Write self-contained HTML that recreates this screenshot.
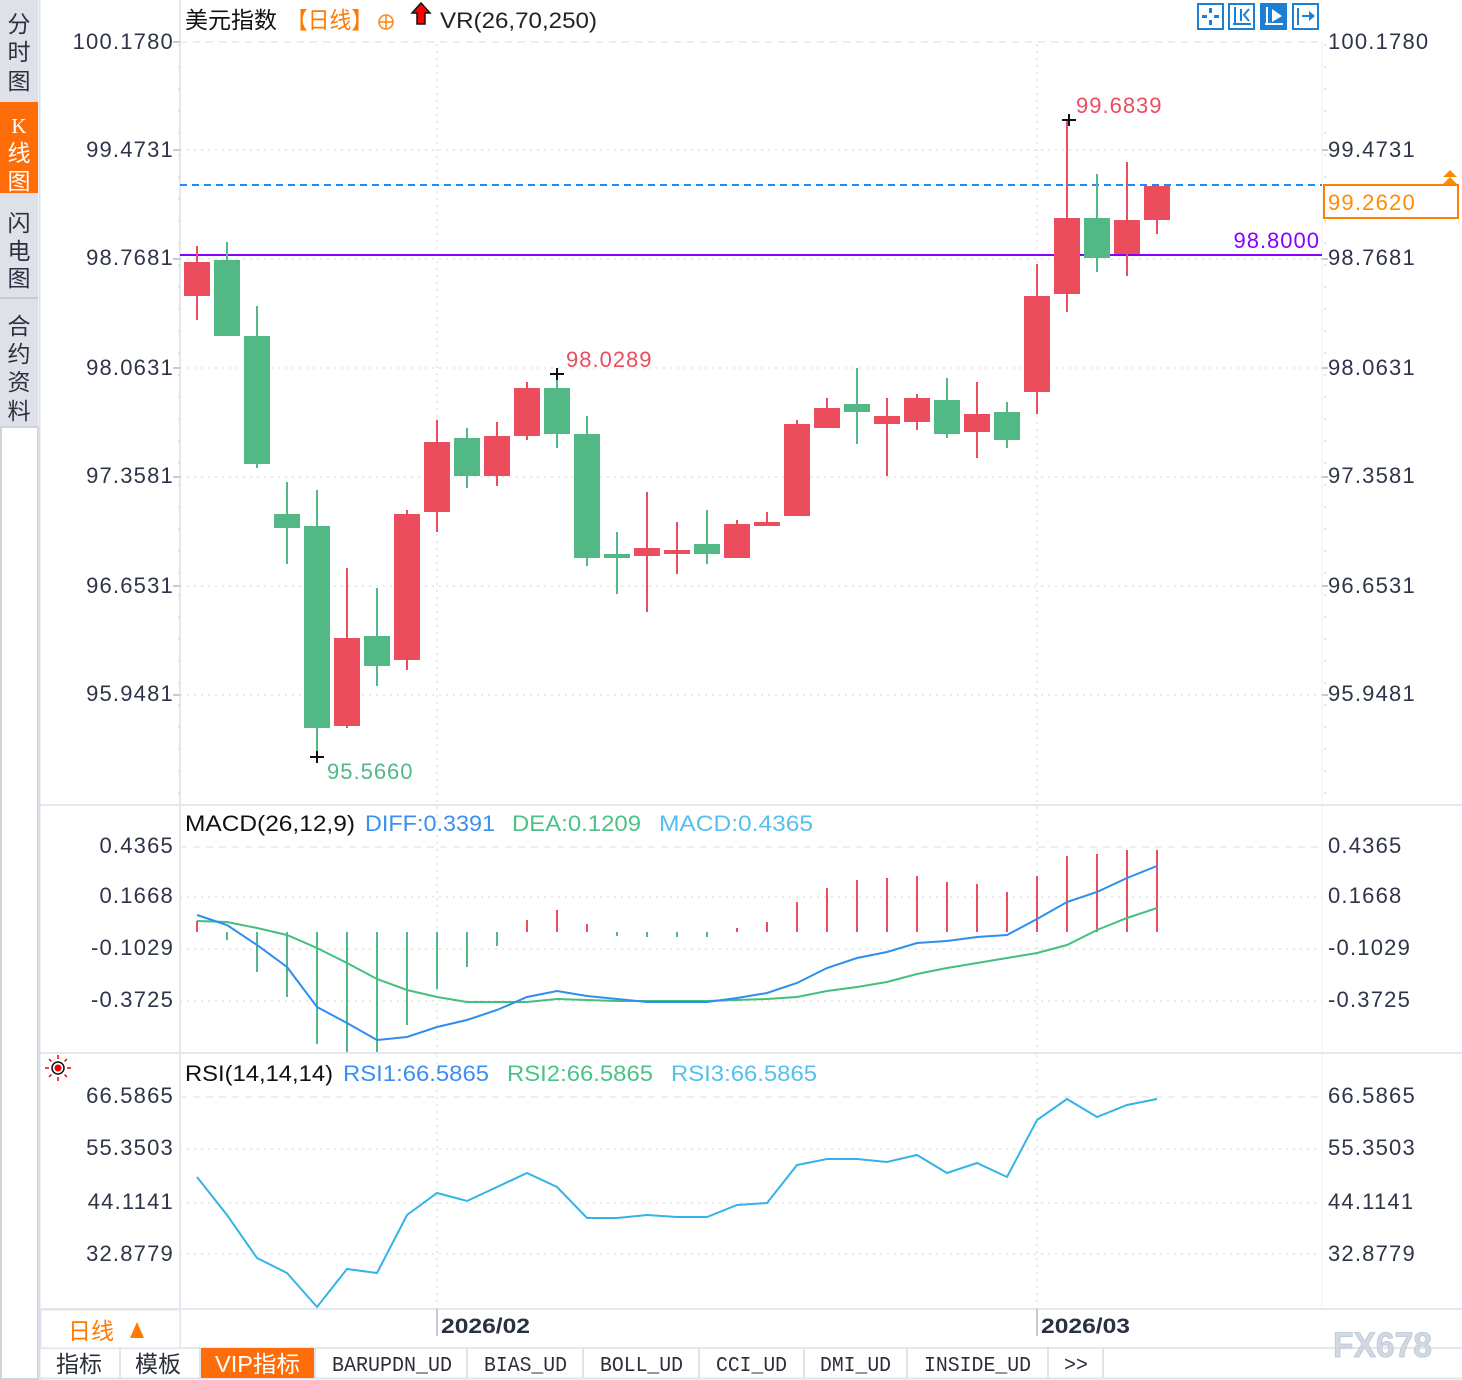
<!DOCTYPE html>
<html><head><meta charset="utf-8"><style>
html,body{margin:0;padding:0;background:#fff;}
svg{display:block;}
.ax{font-family:"Liberation Sans",sans-serif;font-size:22px;fill:#2e3548;letter-spacing:1.2px;}
.cj{font-family:"Liberation Sans","Noto Sans CJK SC",sans-serif;}
.tb{font-family:"Liberation Mono","Noto Sans CJK SC",monospace;font-size:21px;fill:#2a2f3a;}
</style></head><body>
<svg width="1462" height="1380" viewBox="0 0 1462 1380" xmlns="http://www.w3.org/2000/svg">
<rect width="1462" height="1380" fill="#fff"/>
<!-- sidebar -->
<rect x="0" y="0" width="38" height="427" fill="#dfe1e8"/>
<rect x="0" y="102" width="38" height="91" fill="#ff6d0a"/>
<line x1="0" y1="298" x2="38" y2="298" stroke="#c6cad3" stroke-width="2"/>
<rect x="1" y="427" width="37" height="952" fill="#fff" stroke="#cfd4dc" stroke-width="2"/>
<line x1="39.5" y1="0" x2="39.5" y2="1380" stroke="#dde2ea" stroke-width="2"/>
<g class="cj" font-size="23" fill="#2b3140" text-anchor="middle">
<text x="19" y="32">分</text><text x="19" y="60">时</text><text x="19" y="89">图</text>
<text x="19" y="133" fill="#fff" font-family="Liberation Serif,serif" font-size="21">K</text><text x="19" y="161" fill="#fff">线</text><text x="19" y="189" fill="#fff">图</text>
<text x="19" y="231">闪</text><text x="19" y="259">电</text><text x="19" y="286">图</text>
<text x="19" y="334">合</text><text x="19" y="362">约</text><text x="19" y="390">资</text><text x="19" y="419">料</text>
</g>
<!-- panel structure lines -->
<line x1="180" y1="0" x2="180" y2="1348" stroke="#e3e8ef" stroke-width="2"/>
<line x1="1322" y1="41" x2="1322" y2="1309" stroke="#eef1f5" stroke-width="1"/>
<line x1="40" y1="805" x2="1462" y2="805" stroke="#e3e8ef" stroke-width="2"/>
<line x1="40" y1="1053" x2="1462" y2="1053" stroke="#e3e8ef" stroke-width="2"/>
<line x1="40" y1="1309" x2="1462" y2="1309" stroke="#e3e8ef" stroke-width="2"/>
<line x1="40" y1="1348" x2="1462" y2="1348" stroke="#e3e8ef" stroke-width="2"/>
<!-- grid -->
<g stroke="#e6e9ee" stroke-width="1.5" fill="none">
<line x1="180" y1="42" x2="1322" y2="42" stroke-dasharray="7,6"/>
<line x1="180" y1="847" x2="1322" y2="847" stroke-dasharray="7,6"/>
<line x1="180" y1="1097" x2="1322" y2="1097" stroke-dasharray="7,6"/>
</g>
<g stroke="#e4e4e4" stroke-width="1.5" stroke-dasharray="2,5" fill="none">
<line x1="180" y1="150" x2="1322" y2="150"/>
<line x1="180" y1="259" x2="1322" y2="259"/>
<line x1="180" y1="368" x2="1322" y2="368"/>
<line x1="180" y1="477" x2="1322" y2="477"/>
<line x1="180" y1="586" x2="1322" y2="586"/>
<line x1="180" y1="695" x2="1322" y2="695"/>
<line x1="180" y1="897" x2="1322" y2="897"/>
<line x1="180" y1="949" x2="1322" y2="949"/>
<line x1="180" y1="1001" x2="1322" y2="1001"/>
<line x1="180" y1="1149" x2="1322" y2="1149"/>
<line x1="180" y1="1203" x2="1322" y2="1203"/>
<line x1="180" y1="1254" x2="1322" y2="1254"/>
<line x1="437" y1="44" x2="437" y2="805"/>
<line x1="1037" y1="44" x2="1037" y2="805"/>
<line x1="437" y1="807" x2="437" y2="1053"/>
<line x1="1037" y1="807" x2="1037" y2="1053"/>
<line x1="437" y1="1055" x2="437" y2="1309"/>
<line x1="1037" y1="1055" x2="1037" y2="1309"/>
<line x1="179" y1="44" x2="179" y2="800" stroke="#d8dde5" stroke-dasharray="2,20"/>
<line x1="1325" y1="44" x2="1325" y2="800" stroke="#d8dde5" stroke-dasharray="2,20"/>
</g>
<!-- axis tick dashes -->
<g stroke="#c5ccd6" stroke-width="2">
<line x1="173" y1="42" x2="180" y2="42"/><line x1="173" y1="150" x2="180" y2="150"/><line x1="173" y1="259" x2="180" y2="259"/><line x1="173" y1="368" x2="180" y2="368"/><line x1="173" y1="477" x2="180" y2="477"/><line x1="173" y1="586" x2="180" y2="586"/><line x1="173" y1="695" x2="180" y2="695"/>
<line x1="1322" y1="150" x2="1328" y2="150"/><line x1="1322" y1="259" x2="1328" y2="259"/><line x1="1322" y1="368" x2="1328" y2="368"/><line x1="1322" y1="477" x2="1328" y2="477"/><line x1="1322" y1="586" x2="1328" y2="586"/><line x1="1322" y1="695" x2="1328" y2="695"/>
<line x1="437" y1="1309" x2="437" y2="1336"/><line x1="1037" y1="1309" x2="1037" y2="1336"/>
</g>
<!-- header -->
<text x="185" y="28" class="cj" font-size="23" fill="#111">美元指数</text>
<text x="286" y="28" class="cj" font-size="23" fill="#ff7a00" textLength="87" lengthAdjust="spacingAndGlyphs">【日线】</text>
<g stroke="#ff8a1a" stroke-width="1.6" fill="none"><circle cx="386" cy="22" r="7"/><line x1="379" y1="22" x2="393" y2="22"/><line x1="386" y1="15" x2="386" y2="29"/></g>
<path d="M421 3 L430 13 L425 13 L425 24 L417 24 L417 13 L412 13 Z" fill="#f00" stroke="#111" stroke-width="1.5"/>
<text x="440" y="28" font-family="Liberation Sans,sans-serif" font-size="22" fill="#222" textLength="157" lengthAdjust="spacingAndGlyphs">VR(26,70,250)</text>
<!-- toolbar -->
<g fill="none" stroke="#1c7fd4" stroke-width="2">
<rect x="1198" y="4" width="25" height="25"/>
<rect x="1229" y="4" width="25" height="25"/>
<rect x="1261" y="4" width="25" height="25" fill="#1c7fd4"/>
<rect x="1293" y="4" width="25" height="25"/>
</g>
<g fill="#1c7fd4"><rect x="1209" y="8" width="3" height="5"/><rect x="1209" y="20" width="3" height="5"/><rect x="1202" y="15" width="5" height="3"/><rect x="1214" y="15" width="5" height="3"/></g>
<g stroke="#1c7fd4" stroke-width="2" fill="none"><line x1="1235" y1="7" x2="1235" y2="25"/><line x1="1233" y1="24" x2="1251" y2="24"/><line x1="1241" y1="9" x2="1241" y2="21"/><path d="M1249 9 L1244 15 L1249 21"/></g>
<g stroke="#fff" stroke-width="2" fill="none"><line x1="1267" y1="7" x2="1267" y2="25"/><line x1="1265" y1="24" x2="1283" y2="24"/></g><path d="M1272 9 L1282 16 L1272 22 Z" fill="#fff"/>
<g stroke="#1c7fd4" stroke-width="2" fill="none"><line x1="1298" y1="8" x2="1298" y2="25"/><line x1="1302" y1="16" x2="1310" y2="16"/></g><path d="M1309 11 L1315 16 L1309 21 Z" fill="#1c7fd4"/>
<!-- left axis labels -->
<g class="ax" text-anchor="end">
<text x="174" y="49">100.1780</text><text x="174" y="157">99.4731</text><text x="174" y="265">98.7681</text><text x="174" y="375">98.0631</text><text x="174" y="483">97.3581</text><text x="174" y="593">96.6531</text><text x="174" y="701">95.9481</text>
<text x="174" y="853">0.4365</text><text x="174" y="903">0.1668</text><text x="174" y="955">-0.1029</text><text x="174" y="1007">-0.3725</text>
<text x="174" y="1103">66.5865</text><text x="174" y="1155">55.3503</text><text x="174" y="1209">44.1141</text><text x="174" y="1261">32.8779</text>
</g>
<g class="ax">
<text x="1328" y="49">100.1780</text><text x="1328" y="157">99.4731</text><text x="1328" y="265">98.7681</text><text x="1328" y="375">98.0631</text><text x="1328" y="483">97.3581</text><text x="1328" y="593">96.6531</text><text x="1328" y="701">95.9481</text>
<text x="1328" y="853">0.4365</text><text x="1328" y="903">0.1668</text><text x="1328" y="955">-0.1029</text><text x="1328" y="1007">-0.3725</text>
<text x="1328" y="1103">66.5865</text><text x="1328" y="1155">55.3503</text><text x="1328" y="1209">44.1141</text><text x="1328" y="1261">32.8779</text>
</g>
<!-- reference lines -->
<line x1="180" y1="185" x2="1322" y2="185" stroke="#1a8cff" stroke-width="2" stroke-dasharray="7,5"/>
<line x1="180" y1="255" x2="1322" y2="255" stroke="#8a00ff" stroke-width="2"/>
<text x="1320" y="248" text-anchor="end" font-family="Liberation Sans,sans-serif" font-size="22" fill="#8a00ff" letter-spacing="1">98.8000</text>
<rect x="1324" y="185" width="134" height="33" fill="#fff" stroke="#ff7f00" stroke-width="2"/>
<text x="1328" y="210" class="ax" style="fill:#ff8c00">99.2620</text>
<path d="M1450 170 L1457 177 L1443 177 Z M1450 177 L1457 184 L1443 184 Z" fill="#ff8c00"/>
<!-- candles -->
<g fill="#eb4d5c">
<rect x="196" y="246" width="2" height="74"/><rect x="184" y="262" width="26" height="34"/>
<rect x="346" y="568" width="2" height="160"/><rect x="334" y="638" width="26" height="88"/>
<rect x="406" y="510" width="2" height="160"/><rect x="394" y="514" width="26" height="146"/>
<rect x="436" y="420" width="2" height="112"/><rect x="424" y="442" width="26" height="70"/>
<rect x="496" y="422" width="2" height="64"/><rect x="484" y="436" width="26" height="40"/>
<rect x="526" y="382" width="2" height="58"/><rect x="514" y="388" width="26" height="48"/>
<rect x="646" y="492" width="2" height="120"/><rect x="634" y="548" width="26" height="8"/>
<rect x="676" y="522" width="2" height="52"/><rect x="664" y="550" width="26" height="4"/>
<rect x="736" y="520" width="2" height="38"/><rect x="724" y="524" width="26" height="34"/>
<rect x="766" y="512" width="2" height="14"/><rect x="754" y="522" width="26" height="4"/>
<rect x="796" y="420" width="2" height="96"/><rect x="784" y="424" width="26" height="92"/>
<rect x="826" y="398" width="2" height="30"/><rect x="814" y="408" width="26" height="20"/>
<rect x="886" y="398" width="2" height="78"/><rect x="874" y="416" width="26" height="8"/>
<rect x="916" y="394" width="2" height="36"/><rect x="904" y="398" width="26" height="24"/>
<rect x="976" y="382" width="2" height="76"/><rect x="964" y="414" width="26" height="18"/>
<rect x="1036" y="264" width="2" height="150"/><rect x="1024" y="296" width="26" height="96"/>
<rect x="1066" y="120" width="2" height="192"/><rect x="1054" y="218" width="26" height="76"/>
<rect x="1126" y="162" width="2" height="114"/><rect x="1114" y="220" width="26" height="34"/>
<rect x="1156" y="186" width="2" height="48"/><rect x="1144" y="186" width="26" height="34"/>
</g>
<g fill="#52b886">
<rect x="226" y="242" width="2" height="94"/><rect x="214" y="260" width="26" height="76"/>
<rect x="256" y="306" width="2" height="162"/><rect x="244" y="336" width="26" height="128"/>
<rect x="286" y="482" width="2" height="82"/><rect x="274" y="514" width="26" height="14"/>
<rect x="316" y="490" width="2" height="267"/><rect x="304" y="526" width="26" height="202"/>
<rect x="376" y="588" width="2" height="98"/><rect x="364" y="636" width="26" height="30"/>
<rect x="466" y="428" width="2" height="60"/><rect x="454" y="438" width="26" height="38"/>
<rect x="556" y="376" width="2" height="72"/><rect x="544" y="388" width="26" height="46"/>
<rect x="586" y="416" width="2" height="150"/><rect x="574" y="434" width="26" height="124"/>
<rect x="616" y="532" width="2" height="62"/><rect x="604" y="554" width="26" height="4"/>
<rect x="706" y="510" width="2" height="54"/><rect x="694" y="544" width="26" height="10"/>
<rect x="856" y="368" width="2" height="76"/><rect x="844" y="404" width="26" height="8"/>
<rect x="946" y="378" width="2" height="60"/><rect x="934" y="400" width="26" height="34"/>
<rect x="1006" y="402" width="2" height="46"/><rect x="994" y="412" width="26" height="28"/>
<rect x="1096" y="174" width="2" height="98"/><rect x="1084" y="218" width="26" height="40"/>
</g>
<!-- extreme markers -->
<g stroke="#111" stroke-width="2">
<line x1="1062" y1="120" x2="1076" y2="120"/><line x1="1069" y1="114" x2="1069" y2="126"/>
<line x1="550" y1="374" x2="564" y2="374"/><line x1="557" y1="368" x2="557" y2="380"/>
<line x1="310" y1="757" x2="324" y2="757"/><line x1="317" y1="751" x2="317" y2="763"/>
</g>
<g font-family="Liberation Sans,sans-serif" font-size="22" letter-spacing="1">
<text x="1076" y="113" fill="#eb4d5c">99.6839</text>
<text x="566" y="367" fill="#eb4d5c">98.0289</text>
<text x="327" y="779" fill="#52b886">95.5660</text>
</g>
<!-- MACD -->
<g font-family="Liberation Sans,sans-serif" font-size="22">
<text x="185" y="831" fill="#111" textLength="170" lengthAdjust="spacingAndGlyphs">MACD(26,12,9)</text>
<text x="365" y="831" fill="#3a8ff0" textLength="130" lengthAdjust="spacingAndGlyphs">DIFF:0.3391</text>
<text x="512" y="831" fill="#4cc288" textLength="129" lengthAdjust="spacingAndGlyphs">DEA:0.1209</text>
<text x="659" y="831" fill="#55c0f0" textLength="154" lengthAdjust="spacingAndGlyphs">MACD:0.4365</text>
</g>
<g stroke-width="2">
<g stroke="#eb4d5c">
<line x1="197" y1="921" x2="197" y2="932"/><line x1="527" y1="920" x2="527" y2="932"/><line x1="557" y1="910" x2="557" y2="932"/><line x1="587" y1="924" x2="587" y2="932"/>
<line x1="737" y1="928" x2="737" y2="932"/><line x1="767" y1="922" x2="767" y2="932"/><line x1="797" y1="902" x2="797" y2="932"/><line x1="827" y1="888" x2="827" y2="932"/>
<line x1="857" y1="880" x2="857" y2="932"/><line x1="887" y1="878" x2="887" y2="932"/><line x1="917" y1="876" x2="917" y2="932"/><line x1="947" y1="882" x2="947" y2="932"/>
<line x1="977" y1="884" x2="977" y2="932"/><line x1="1007" y1="892" x2="1007" y2="932"/><line x1="1037" y1="876" x2="1037" y2="932"/><line x1="1067" y1="856" x2="1067" y2="932"/>
<line x1="1097" y1="854" x2="1097" y2="932"/><line x1="1127" y1="850" x2="1127" y2="932"/><line x1="1157" y1="850" x2="1157" y2="932"/>
</g>
<g stroke="#52b886">
<line x1="227" y1="932" x2="227" y2="940"/><line x1="257" y1="932" x2="257" y2="972"/><line x1="287" y1="932" x2="287" y2="997"/><line x1="317" y1="932" x2="317" y2="1044"/>
<line x1="347" y1="932" x2="347" y2="1052"/><line x1="377" y1="932" x2="377" y2="1052"/><line x1="407" y1="932" x2="407" y2="1025"/><line x1="437" y1="932" x2="437" y2="989"/>
<line x1="467" y1="932" x2="467" y2="967"/><line x1="497" y1="932" x2="497" y2="946"/><line x1="617" y1="932" x2="617" y2="936"/><line x1="647" y1="932" x2="647" y2="937"/>
<line x1="677" y1="932" x2="677" y2="937"/><line x1="707" y1="932" x2="707" y2="937"/>
</g>
</g>
<polyline fill="none" stroke="#45bf80" stroke-width="2" points="197,921 227,922 257,928 287,935 317,948 347,963 377,979 407,990 437,997 467,1002 497,1002 527,1002 557,999 587,1000 617,1001 647,1001 677,1001 707,1001 737,1000 767,999 797,997 827,991 857,987 887,982 917,974 947,968 977,963 1007,958 1037,953 1067,945 1097,930 1127,918 1157,908"/>
<polyline fill="none" stroke="#2e8ef0" stroke-width="2" points="197,915 227,925 257,945 287,967 317,1007 347,1023 377,1040 407,1037 437,1027 467,1020 497,1010 527,997 557,991 587,996 617,999 647,1002 677,1002 707,1002 737,998 767,993 797,983 827,968 857,958 887,952 917,943 947,941 977,937 1007,935 1037,919 1067,902 1097,892 1127,878 1157,866"/>
<!-- RSI -->
<g transform="translate(58,1068)">
<circle r="6" fill="none" stroke="#111" stroke-width="1.5"/><circle r="3.5" fill="#e00"/>
<g stroke="#e00" stroke-width="1.5"><line x1="0" y1="-13" x2="0" y2="-9"/><line x1="0" y1="9" x2="0" y2="13"/><line x1="-13" y1="0" x2="-9" y2="0"/><line x1="9" y1="0" x2="13" y2="0"/><line x1="-9" y1="-9" x2="-6.5" y2="-6.5"/><line x1="9" y1="9" x2="6.5" y2="6.5"/><line x1="-9" y1="9" x2="-6.5" y2="6.5"/><line x1="9" y1="-9" x2="6.5" y2="-6.5"/></g>
</g>
<g font-family="Liberation Sans,sans-serif" font-size="22">
<text x="185" y="1081" fill="#111" textLength="148" lengthAdjust="spacingAndGlyphs">RSI(14,14,14)</text>
<text x="343" y="1081" fill="#3a8ff0" textLength="146" lengthAdjust="spacingAndGlyphs">RSI1:66.5865</text>
<text x="507" y="1081" fill="#4cc288" textLength="146" lengthAdjust="spacingAndGlyphs">RSI2:66.5865</text>
<text x="671" y="1081" fill="#55c0f0" textLength="146" lengthAdjust="spacingAndGlyphs">RSI3:66.5865</text>
</g>
<polyline fill="none" stroke="#33b3e8" stroke-width="2" points="197,1177 227,1215 257,1258 287,1273 317,1307 347,1269 377,1273 407,1215 437,1193 467,1201 497,1187 527,1173 557,1187 587,1218 617,1218 647,1215 677,1217 707,1217 737,1205 767,1203 797,1165 827,1159 857,1159 887,1162 917,1155 947,1173 977,1163 1007,1177 1037,1120 1067,1099 1097,1117 1127,1105 1157,1099"/>
<!-- x axis -->
<rect x="41" y="1310" width="139" height="38" fill="#fff" stroke="#dfe3ea" stroke-width="1"/>
<text x="68" y="1339" class="cj" font-size="23" fill="#ff7a00">日线</text>
<path d="M130 1338 L137 1322 L144 1338 Z" fill="#ff7a00"/>
<g font-family="Liberation Sans,sans-serif" font-size="21" font-weight="bold" fill="#2a3140">
<text x="441" y="1333" textLength="89" lengthAdjust="spacingAndGlyphs">2026/02</text>
<text x="1041" y="1333" textLength="89" lengthAdjust="spacingAndGlyphs">2026/03</text>
</g>
<text x="1333" y="1357" font-family="Liberation Sans,sans-serif" font-size="35" font-weight="bold" fill="#d2d9e3" stroke="#bcc6d3" stroke-width="0.8" textLength="99" lengthAdjust="spacingAndGlyphs">FX678</text>
<!-- tab bar -->
<line x1="40" y1="1378.5" x2="1462" y2="1378.5" stroke="#dfe3ea" stroke-width="2"/>
<rect x="200" y="1348" width="115" height="30" fill="#ff6d0a"/>
<g stroke="#dfe3ea" stroke-width="2">
<line x1="120" y1="1348" x2="120" y2="1378"/><line x1="200" y1="1348" x2="200" y2="1378"/><line x1="315" y1="1348" x2="315" y2="1378"/><line x1="467" y1="1348" x2="467" y2="1378"/><line x1="583" y1="1348" x2="583" y2="1378"/><line x1="699" y1="1348" x2="699" y2="1378"/><line x1="804" y1="1348" x2="804" y2="1378"/><line x1="907" y1="1348" x2="907" y2="1378"/><line x1="1048" y1="1348" x2="1048" y2="1378"/><line x1="1103" y1="1348" x2="1103" y2="1378"/>
</g>
<g class="tb">
<text x="56" y="1372" class="cj" font-size="23" fill="#2a2f3a">指标</text>
<text x="135" y="1372" class="cj" font-size="23" fill="#2a2f3a">模板</text>
<text x="215" y="1372" class="cj" font-size="23" fill="#fff" textLength="85" lengthAdjust="spacingAndGlyphs">VIP指标</text>
<text x="332" y="1371" textLength="120" lengthAdjust="spacingAndGlyphs">BARUPDN_UD</text>
<text x="484" y="1371" textLength="83" lengthAdjust="spacingAndGlyphs">BIAS_UD</text>
<text x="600" y="1371" textLength="83" lengthAdjust="spacingAndGlyphs">BOLL_UD</text>
<text x="716" y="1371" textLength="71" lengthAdjust="spacingAndGlyphs">CCI_UD</text>
<text x="820" y="1371" textLength="71" lengthAdjust="spacingAndGlyphs">DMI_UD</text>
<text x="924" y="1371" textLength="107" lengthAdjust="spacingAndGlyphs">INSIDE_UD</text>
<text x="1064" y="1371" textLength="24" lengthAdjust="spacingAndGlyphs">&gt;&gt;</text>
</g>
</svg>
</body></html>
